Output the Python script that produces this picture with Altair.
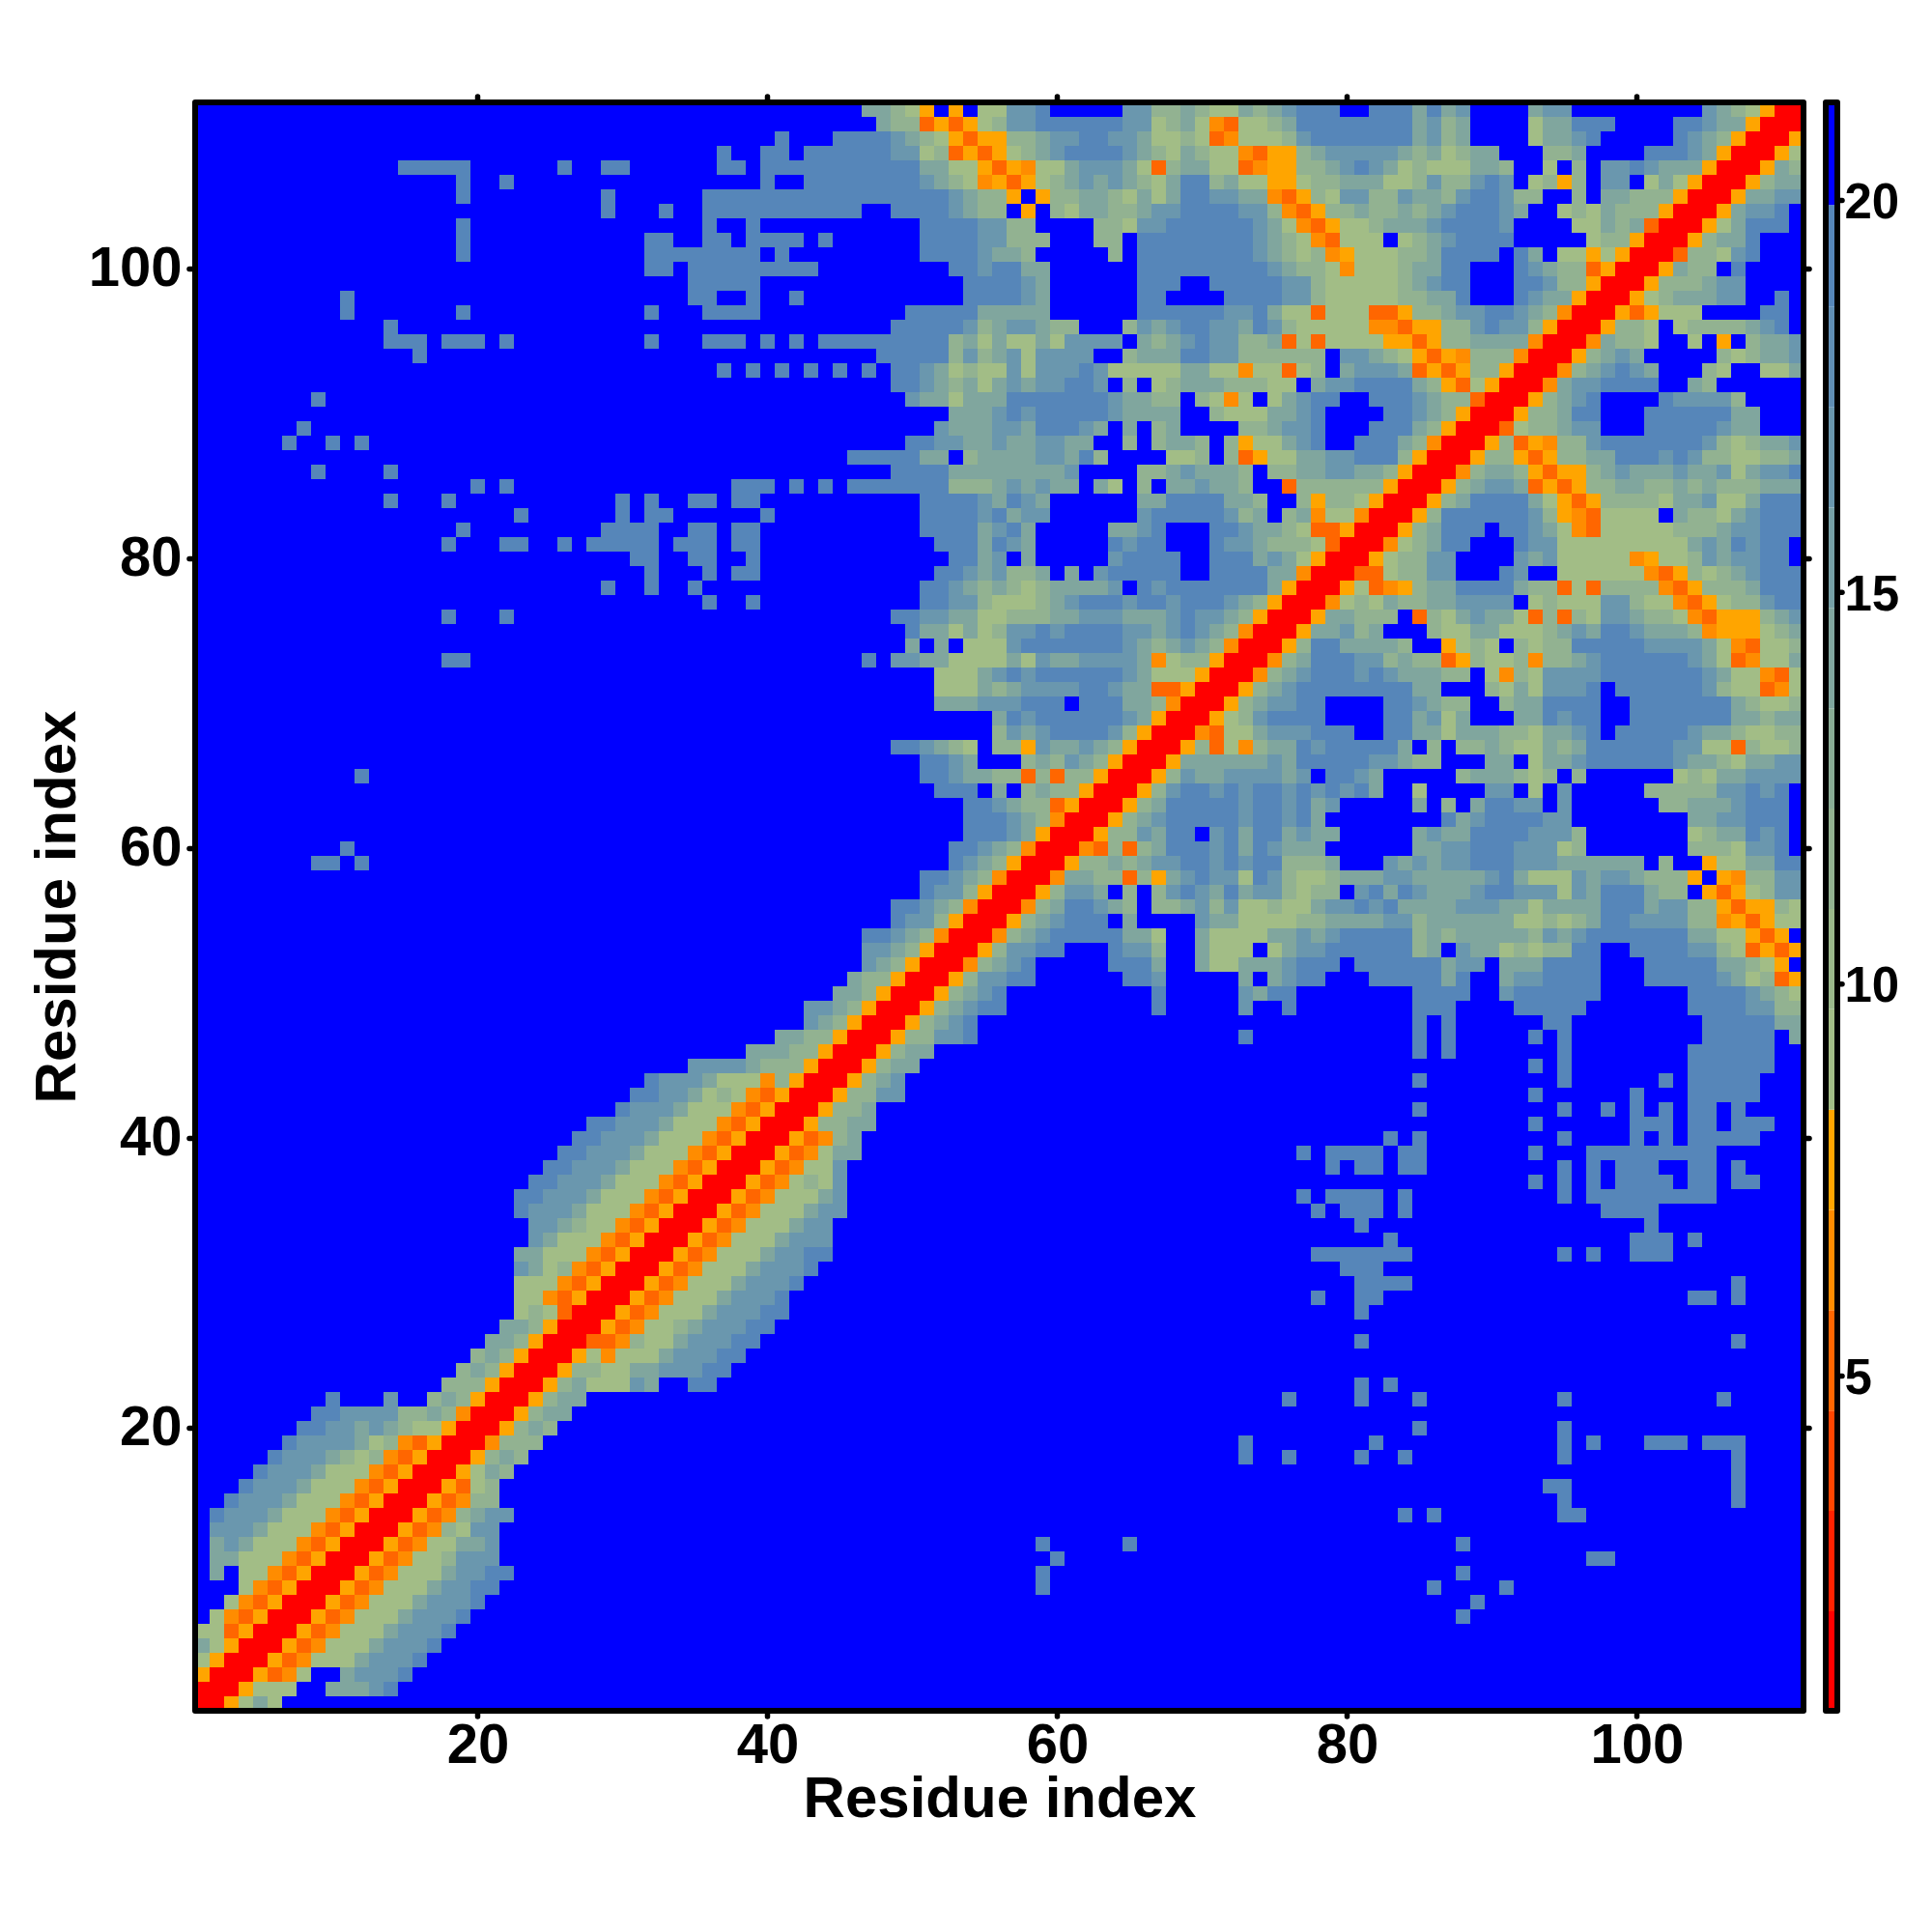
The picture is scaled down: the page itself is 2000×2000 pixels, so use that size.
import altair as alt

# Upper triangle of the symmetric matrix: row -> "column:codes" or "from-to:code". Unlisted cells are blue.
ROWS = {
111:"47:3321C.C.11 57:445 65:44 67:223211 73:32345 78:55 82:5553 86:5 87:34 93:344 105:4321C 110:RR",
110:"48:322ACAC12 57:44 59-64:5 65:44 67:1231BA 73:1123 77-84:5 85:34 87:23 93:133 96:555 103:55 105:433C 109:RR",
109:"41:5 45:5555 49:4321CACC 57:22344 62:55 64:443 67:11 69:21AB 73:11 75:12 77:4 78-84:5 85:34 87:23 93:133 96:45 103:543 106:2C 108:RR",
108:"37:5 40:55 43:555555 49:4412ACAC 57:1234 61:5555 65:43213211 73:BACC 77:23 79:44444 84:3231233 94:223 101:555 104:43C 107:RR",
107:"15:55555 26:5 29:55 37:55 40-50:5 51:3311CACB 59:11 61:3444 65:31A2 69:33 71:11 73:ABCC 77:22 79:34543 84:12111332 94:1 96:2 98:445 101:433 104:3C 106:RR",
106:"19:5 22:5 40:5 43-50:5 51:4321BCAC 59:123434 65:321355 71:2311CC 77:122333 83:112422 89:454 93:12C2 98:44 101:131C 105:RR",
105:"19:5 29:5 36-52:5 53:4322C.C 60:223321 66:31355 71:4433BAC 78:2144224 85:332455422 96:2 98:33222CRR",
104:"29:5 33:5 36-46:5 49-52:5 53:4322.C. 60:213322344 69-72:5 73:442BAC 79:223223234 88-90:5 91:43 95:1213222CRR",
103:"19:5 36:5 39:5 51-54:5 55:4422 63:221 66:44 68-73:5 74:431BAC 80:112333 86:4 87-90:5 91:4 96:11323ARR",
102:"19:5 32:55 36:55 39:5555 44:5 51-54:5 55:44222 63:22 66-73:5 74:4321BA111 84:1234 88-91:5 97:122CRR",
101:"19:5 32-39:5 41:5 51-54:5 55:4332 64:2 66-73:5 74:43212BC111223 87-90:5 92:53 95:11C1CRR",
100:"32:55 35-43:5 53:55 55:45533 66-74:5 75:43221B11123355 92:54322ACRR",
99:"35-39:5 54-57:5 58:43 66-68:5 71-75:5 76:44 78:21111123455 92:55422CRR",
98:"11:5 35:55 39:5 42:5 54-57:5 58:43 66:55 72-75:5 76:44 78:211111 84:22335 92:5433CRR",
97:"11:5 19:5 32:5 36-39:5 50-54:5 55-59:3 66-71:5 72:445311A 79:111AAC 85:223445 91:5432BRR",
96:"14:5 49-53:5 54:42344322 65:243455443542 77-81:1 82:BBACC 87:2245442CRR",
95:"14-16:5 18-20:5 22:5 32:5 36-38:5 40:5 42:5 44-52:5 53:231311314444 66:3234544223A1A 79-82:1 83:CCAC22 89-92:3 93:BRR",
94:"16:5 48-52:5 53:2423414444 65:2 66-68:3 69:55 71:44 73-78:2 80:44 82:321CACB 89-91:2 92:BRR",
93:"37:5 39:5 41:5 43:5 45:5 47:5 49:55 51:4312114144454 64-68:1 69:33 71:11 73:B11A12 80:34443ACAC22CRR",
92:"49:55 51:4323134344554 65:2 67:12 69-71:3 72-74:2 75:11 78:344 81-84:5 85:32CA1CRR",
91:"9:5 50:4331333 57-63:5 64:43322 70:21B1 75:13455 82:5554322ARR",
90:"53:333454 59-63:5 64:4 65-68:3 71:2 72-74:1 75:33 77:45 83:55432CRR",
89:"8:5 52:4333443 59-61:5 62:43 65:3 67:23 73:22 75:3445 82:55532CRR",
88:"7:5 10:5 12:5 50:55 52:44 54:334334433 65:2 67:2332 72:2C11345 81:55532BRR",
87:"46-50:5 51:33 54:2333344352 68:112 72:2AC113344 81-83:5 84:2CRR",
86:"9:5 14:5 49-52:5 53-60:3 61:4 66:22 68:343332 75:223344332CRR",
85:"20:5 22:5 38-40:5 42:5 44:5 46-52:5 53:222343433 63:31 66:2 68:334332 76:A 77-82:2 83:CRR",
84:"14:5 18:5 30:5 32:5 35:55 38:55 51-54:5 55:43543 66:33 68-71:5 72:332 77:2C221CRR",
83:"23:5 30:5 32:55 40:5 51-54:5 55:45344 66:4 67-71:5 72:423 76:23B11BRR",
82:"19:5 29:5 30-32:5 35:55 38:55 51-54:5 55:3453 64:3345 71:5543321AACRR",
81:"18:5 22:55 26:5 28:55 30-32:5 34-36:5 38:55 52-54:5 55:3543 64:54 66:55 71:5443 75:2221ARR",
80:"31:55 35:55 39:5 53:55 55:34 58:3 64:4 65-68:5 71-73:5 74:3431CRR",
79:"32:5 36:5 38:55 52:55 54:434 57:223 61:3 63:4 64-68:5 71-74:5 75:33BRR",
78:"29:5 32:5 35:5 51:55 53:432321233334 66:54 68-74:5 75:3CRR",
77:"36:5 39:5 51:55 53:442111234 62-64:5 65:4 66:55 68:4 69-71:5 72:432CRR",
76:"18:5 22:5 49:55 51:44 53:33 55:11 57:222 60:33 62:444 65:333 68:4 69:5 70:44 72:32CRR",
75:"50:5 51:33 53:13 55:12 57:44 59:5 60:4 61-64:5 65:44 67:3 68:4 69:5 70:4 71:32BRR",
74:"50:3 52:3 54:111 57:4 58-64:5 65:4 66:32 68:3 69:4 70:3 71:2 72:BRR",
73:"18:55 47:5 49:44 51:33 53-56:1 57:3 58:1 59:4 60:33 62-65:4 66:3 67:B 68:1 69:22 71:CRR",
72:"52-54:1 55:34 57:5 58:4 59-64:5 65:4 66:3 67-69:1 70:CRR",
71:"52-54:1 55:32 57:3 58-61:4 62:55 64:4 65:33 67:AA 69:CRR",
70:"52-54:3 55:44 57:4 58-60:5 62-64:5 65:33 67:2 68:BRR",
69:"56:3 57:5 58:4 59-64:5 65:4 66:3 67:CRR",
68:"56:2 57:4 58:3 59:4 60-63:5 64:4 65:2 66:CRR",
67:"49:55 51:4 52:3 53:2 54:1 56:22 58:C 59:4 60:33 62:4 63:3 64:2 65:CRR",
66:"51:55 53:4 54:3 58:2 59:3 60:2 61:4 62:3 63:2 64:CRR",
65:"12:5 51:55 53:4 54:3 55:3 56:22 58:A 59:2 60:A 61:22 63:CRR",
64:"52-54:5 56:3 58:2 59:3 60:22 62:CRR",
63:"54:55 56:4 57:3 58:22 60:A 61:CRR",
62:"54:55 56:5 57:4 58:3 59:2 60:BRR",
61:"54-56:5 57:4 58:3 59:CRR",
60:"11:5 53:55 55:4 56:3 57:2 58:BRR",
59:"9:55 12:5 53:5 54:4 55:3 56:2 57:CRR",
58:"51:55 53:4 54:3 55:2 56:BRR",
57:"51:5 52:4 53:4 54:2 55:CRR",
56:"49:55 51:4 52:3 53:2 54:BRR",
55:"49:5 50:44 52:2 53:CRR",
54:"47:55 49:4 50:3 51:2 52:BRR",
53:"47:44 49:3 50:2 51:CRR",
52:"47:4 48:3 49:2 50:CRR",
51:"46:3 47:22 49:CRR",
50:"45:33 47:2 48:CRR",
49:"43:44 45:3 46:2 47:CRR",
48:"43:4 44:3 45:2 46:CRR",
47:"41:33 43:22 45:CRR",
46:"39-41:3 42:22 44:CRR",
45:"35-38:4 39:3 40-42:2 43:CRR",
44:"32:5 33-35:4 36:3 37-39:1 40:B 41:2 42:CRR",
43:"31:55 33:44 35:3 36:121 39:BAC 42:RR",
42:"30:5 31-33:4 34:3 35-37:1 38:BAC 41:RR",
41:"28:55 30-32:4 33:3 34-36:1 37:BAC 40:RR",
40:"27:55 29-31:4 32:3 33-35:1 36:BAC 39:RR",
39:"26:55 28-30:4 31:3 32-34:1 35:BAC 38:RR",
38:"25:55 27-29:4 30:3 31-33:1 34:BAC 37:RR",
37:"24:55 26-28:4 29:3 30-32:1 33:BAC 36:RR",
36:"23:55 25-27:4 28:3 29-31:1 32:BAC 35:RR",
35:"23:5 24-26:4 27:3 28-30:1 31:BAC 34:RR",
34:"24:44 26:3 27:2 28:11 30:BAC 33:RR",
33:"24:4 25:3 26-28:1 29:BAC 32:RR",
32:"23:33 25-27:1 28:BAC 31:RR",
31:"23:4 24:3 25:1 26:2 27:BAC 30:RR",
30:"23-25:1 26:BAC 29:RR",
29:"23:11 25:BAC 28:RR",
28:"23:1 24:2 25:1 26:A 27:RR",
27:"22:33 24:2 25:C 26:RR",
26:"21:33 23:2 24:C 25:RR",
25:"20:2 21:3 22:2 23:C 24:RR",
24:"19:2 20:3 21:2 22:C 23:RR",
23:"18-20:2 21:C 22:RR",
22:"10:5 14:4 17:2 18:3 19:2 20:C 21:RR",
21:"9:55 11-14:4 15:22 17:3 18:2 19:B 20:RR",
20:"8:55 10:44 12:3 13:4 14:3 15:2 16:11 18:C 19:RR",
19:"7:5 8-11:4 12:3 13:1 14:2 15:BAC 18:RR",
18:"6:5 7-9:4 10:3 11:2 12:1 13:2 14:BAC 17:RR",
17:"5:5 6-8:4 9:3 10-12:1 13:BAC 16:RR",
16:"4:5 5-7:4 8:3 9-11:1 12:BAC 15:RR",
15:"3:5 4-6:4 7:3 8-10:1 11:BAC 14:RR",
14:"2:5 3-5:4 6:3 7-9:1 10:BAC 13:RR",
13:"2-4:4 5:3 6-8:1 9:BAC 12:RR",
12:"2:3 3:4 4:3 5-7:1 8:BAC 11:RR",
11:"2:33 4-6:1 7:BAC 10:RR",
10:"2:3 4:11 6:BAC 9:RR",
9:"4:1 5:BAC 8:RR",
8:"3:1 4:BAC 7:RR",
7:"2:1 3:BAC 6:RR",
6:"1:11 3:AC 5:RR",
5:"1:31 3:C 4:RR",
4:"1:1 2:C 3:RR",
3:"1:C 2:RR",
2:"1:RR",
1:"1:R",
}

# Distance value represented by each code
CODE_VALUES = {"R": 1.4, "A": 5.2, "B": 6.5, "C": 7.8, "1": 9.0, "2": 11.6,
               "3": 14.1, "4": 16.7, "5": 19.3, ".": 21.0}
BLUE_VALUE = 21.0
BREAKS = [2.0, 3.28, 4.56, 5.84, 7.12, 8.4, 9.68, 10.96, 12.24, 13.52, 14.8,
          16.08, 17.36, 18.64, 19.94]
COLORS = ["#FF0000", "#FF2200", "#FF4500", "#FF6600", "#FF8C00", "#FFA500",
          "#A2BD86", "#9AB88B", "#92B291", "#8AAD96", "#80A69E", "#76A0A6",
          "#6A97AE", "#608EB4", "#5686B9", "#0000FF"]
VMIN, VMAX = 0.73, 21.25
SIDE_TICKS = [20, 40, 60, 80, 100]
BAR_TICKS = [5, 10, 15, 20]
N = 111
FONT = "Liberation Sans"

grid = {}
for r, spec in ROWS.items():
    for tok in spec.split():
        left, codes = tok.split(":")
        if "-" in left:
            a, b = left.split("-")
            for c in range(int(a), int(b) + 1):
                grid[(c, r)] = CODE_VALUES[codes]
        else:
            for i, ch in enumerate(codes):
                grid[(int(left) + i, r)] = CODE_VALUES[ch]

cells = []
for r in range(1, N + 1):
    for c in range(1, N + 1):
        v = grid.get((min(c, r), max(c, r)), BLUE_VALUE)
        cells.append({"c0": c - 0.5, "c1": c + 0.5, "r0": r - 0.5, "r1": r + 0.5, "v": v})

SIZE = 1665
xs = alt.Scale(domain=[0.5, 111.5], nice=False, zero=False)
ys = alt.Scale(domain=[0.5, 111.5], nice=False, zero=False)
cs = alt.Scale(type="threshold", domain=BREAKS, range=COLORS)

x_axis = alt.Axis(values=SIDE_TICKS, ticks=False, domain=False, grid=False, labelFont=FONT,
                  labelFontSize=58, labelFontWeight="bold", labelColor="black", labelPadding=7,
                  title="Residue index", titleFont=FONT, titleFontSize=60, titleFontWeight="bold",
                  titleColor="black", titlePadding=-3, labelFlush=False, labelOverlap=False)
y_axis = alt.Axis(values=SIDE_TICKS, ticks=False, domain=False, grid=False, labelFont=FONT,
                  labelFontSize=58, labelFontWeight="bold", labelColor="black", labelPadding=14,
                  title="Residue index", titleFont=FONT, titleFontSize=60, titleFontWeight="bold",
                  titleColor="black", titlePadding=1, labelFlush=False, labelOverlap=False)

heat = alt.Chart(alt.Data(values=cells)).mark_rect(strokeWidth=0).encode(
    x=alt.X("c0:Q", scale=xs, axis=x_axis),
    x2="c1:Q",
    y=alt.Y("r0:Q", scale=ys, axis=y_axis),
    y2="r1:Q",
    color=alt.Color("v:Q", scale=cs, legend=None),
)

ticks = alt.Data(values=[{"t": t} for t in SIDE_TICKS])
tick_style = dict(color="black", strokeWidth=5.5, strokeCap="round")
top_t = alt.Chart(ticks).mark_rule(**tick_style).encode(
    x=alt.X("t:Q", scale=xs, axis=x_axis), y=alt.value(-6), y2=alt.value(0))
bot_t = alt.Chart(ticks).mark_rule(**tick_style).encode(
    x=alt.X("t:Q", scale=xs, axis=x_axis), y=alt.value(SIZE), y2=alt.value(SIZE + 6))
lef_t = alt.Chart(ticks).mark_rule(**tick_style).encode(
    y=alt.Y("t:Q", scale=ys, axis=y_axis), x=alt.value(-6), x2=alt.value(0))
rig_t = alt.Chart(ticks).mark_rule(**tick_style).encode(
    y=alt.Y("t:Q", scale=ys, axis=y_axis), x=alt.value(SIZE), x2=alt.value(SIZE + 6))
frame = alt.Chart(alt.Data(values=[{"f": 1}])).mark_rect(
    fillOpacity=0, stroke="black", strokeWidth=6, strokeJoin="round").encode(
    x=alt.value(0), x2=alt.value(SIZE), y=alt.value(0), y2=alt.value(SIZE))

main = alt.layer(heat, top_t, bot_t, lef_t, rig_t, frame).properties(width=SIZE, height=SIZE)

# Colour key
bar_rows = []
edges = [VMIN] + BREAKS + [VMAX]
for lo, hi in zip(edges[:-1], edges[1:]):
    bar_rows.append({"lo": lo, "hi": hi, "v": (lo + hi) / 2})
bs = alt.Scale(domain=[VMIN, VMAX], nice=False, zero=False)
BAR_W = 12
bar_axis = alt.Axis(orient="right", values=BAR_TICKS, ticks=False, domain=False,
                    grid=False, title=None, labelFont=FONT, labelFontSize=51, labelFontWeight="bold",
                    labelColor="black", labelPadding=7, labelOffset=3, labelFlush=False, labelOverlap=False)
bar = alt.Chart(alt.Data(values=bar_rows)).mark_rect(strokeWidth=0).encode(
    x=alt.value(0), x2=alt.value(BAR_W),
    y=alt.Y("lo:Q", scale=bs, axis=bar_axis),
    y2="hi:Q",
    color=alt.Color("v:Q", scale=cs, legend=None),
)
bar_t = alt.Chart(alt.Data(values=[{"t": t} for t in BAR_TICKS])).mark_rule(**tick_style).encode(
    y=alt.Y("t:Q", scale=bs, axis=bar_axis), x=alt.value(BAR_W), x2=alt.value(BAR_W + 5))
bar_f = alt.Chart(alt.Data(values=[{"f": 1}])).mark_rect(
    fillOpacity=0, stroke="black", strokeWidth=6, strokeJoin="round").encode(
    x=alt.value(0), x2=alt.value(BAR_W), y=alt.value(0), y2=alt.value(SIZE))
key = alt.layer(bar, bar_t, bar_f).properties(width=BAR_W, height=SIZE)

chart = alt.hconcat(main, key, spacing=23, bounds="flush").resolve_scale(
    color="independent"
).properties(
    padding={"left": 21, "top": 89, "right": 0, "bottom": 0},
    background="white",
).configure_view(stroke=None)

chart.save("out.html", embed_options={"renderer": "svg", "actions": False})
